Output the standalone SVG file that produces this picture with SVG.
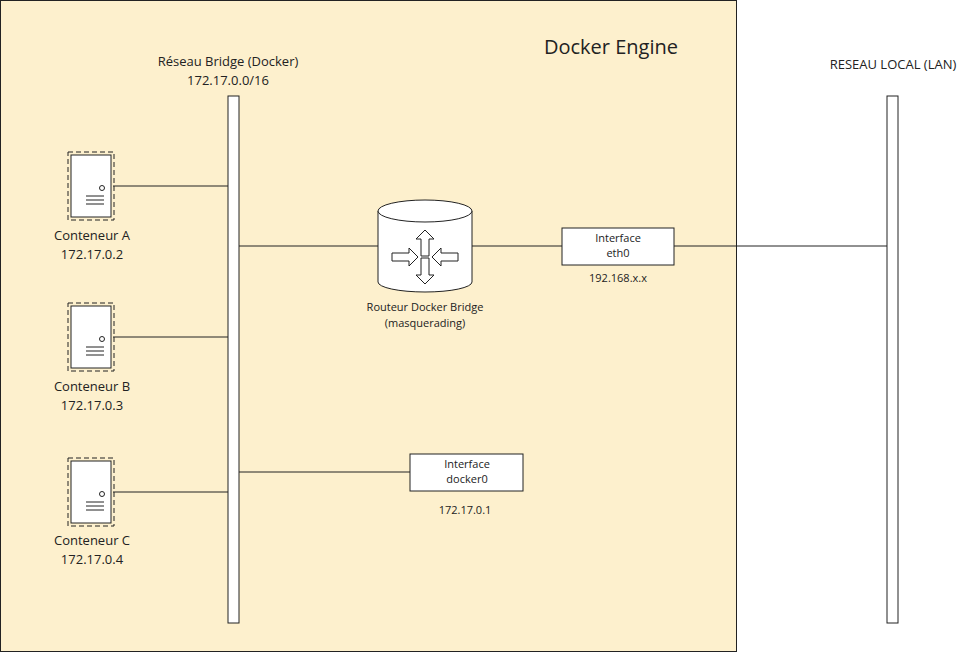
<svg xmlns="http://www.w3.org/2000/svg" width="970" height="653" viewBox="0 0 970 653">
<style>
.t{font-family:"Open Sans","Liberation Sans",sans-serif;fill:#222}
.s{font-family:"Open Sans","Liberation Sans",sans-serif;fill:#222;font-size:11px}
.b{fill:#fff;stroke:#222;stroke-width:1}
.l{stroke:#222;stroke-width:1;fill:none}
</style>
<defs>
<g id="srv">
<rect x="-1" y="-1" width="46" height="68" fill="none" stroke="#222" stroke-dasharray="5,3"/>
<rect x="2" y="2" width="40" height="62" class="b"/>
<circle cx="33" cy="35" r="2.5" class="b"/>
<path d="M17 43h18M17 47h18M17 51h18" class="l"/>
</g>
<path id="arr" d="M0 -13 L9 -4 L4 -4 L4 13 L-4 13 L-4 -4 L-9 -4 Z" fill="#fff" stroke="#222"/>
</defs>
<rect x="0.5" y="0.5" width="736" height="651" fill="#fdf0cd" stroke="#222"/>
<text x="611" y="54" class="t" font-size="20" text-anchor="middle">Docker Engine</text>
<text x="893" y="69" class="t" font-size="13" text-anchor="middle">RESEAU LOCAL (LAN)</text>
<g id="connectors">
<path d="M113 186H228M113 337H228M113 492H228M239 246H378M472 246H562M674 246H887M239 472H410" class="l"/>
</g>
<g id="bridge"><rect x="228" y="96" width="11" height="527" class="b"/>
<text x="228" y="66" class="t" font-size="13" text-anchor="middle">Réseau Bridge (Docker)</text>
<text x="228" y="85" class="t" font-size="13" text-anchor="middle">172.17.0.0/16</text></g>
<g id="lan"><rect x="887" y="96" width="11" height="527" class="b"/></g>
<g id="ctA"><use href="#srv" x="69" y="153"/><text x="92" y="240" class="t" font-size="13" text-anchor="middle">Conteneur A</text><text x="92" y="259" class="t" font-size="13" text-anchor="middle">172.17.0.2</text></g>
<g id="ctB"><use href="#srv" x="69" y="304"/><text x="92" y="391" class="t" font-size="13" text-anchor="middle">Conteneur B</text><text x="92" y="410" class="t" font-size="13" text-anchor="middle">172.17.0.3</text></g>
<g id="ctC"><use href="#srv" x="69" y="459"/><text x="92" y="545" class="t" font-size="13" text-anchor="middle">Conteneur C</text><text x="92" y="564" class="t" font-size="13" text-anchor="middle">172.17.0.4</text></g>
<g id="router">
<path d="M378 211 V282 A47 10 0 0 0 472 282 V211" class="b"/>
<ellipse cx="425" cy="211" rx="47" ry="11" class="b"/>
<use href="#arr" transform="translate(425 243)"/>
<use href="#arr" transform="translate(425 271) rotate(180)"/>
<use href="#arr" transform="translate(405 257) rotate(90)"/>
<use href="#arr" transform="translate(445 257) rotate(-90)"/>
<text x="425" y="311" class="s" text-anchor="middle">Routeur Docker Bridge</text>
<text x="425" y="327" class="s" text-anchor="middle">(masquerading)</text>
</g>
<g id="eth0"><rect x="562" y="228" width="112" height="37" class="b"/>
<text x="618" y="242" class="s" text-anchor="middle">Interface</text>
<text x="618" y="257" class="s" text-anchor="middle">eth0</text>
<text x="618" y="282" class="s" text-anchor="middle">192.168.x.x</text></g>
<g id="docker0"><rect x="410" y="454" width="113" height="37" class="b"/>
<text x="467" y="468" class="s" text-anchor="middle">Interface</text>
<text x="467" y="483" class="s" text-anchor="middle">docker0</text>
<text x="465" y="514" class="s" text-anchor="middle">172.17.0.1</text></g>
</svg>
